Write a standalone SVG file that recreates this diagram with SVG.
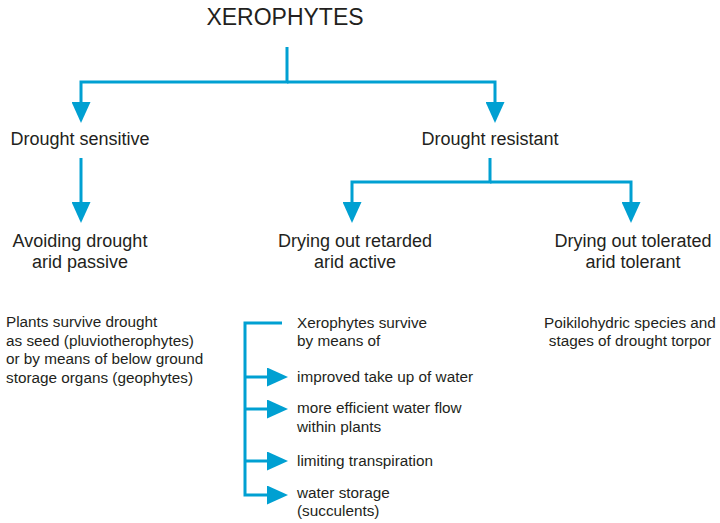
<svg xmlns="http://www.w3.org/2000/svg" width="720" height="523" viewBox="0 0 720 523">
<style>
text{font-family:"Liberation Sans",Arial,sans-serif;fill:#231f20}
.t1{font-size:23px}
.t2{font-size:18px}
.t3{font-size:15.3px}
.c{stroke:#00a0d2;stroke-width:3;fill:none;stroke-linejoin:miter}
</style>
<defs>
<marker id="ah" markerUnits="userSpaceOnUse" markerWidth="21" markerHeight="19" refX="0" refY="9.5" orient="auto">
<path d="M0,0 L21,9.5 L0,19 z" fill="#00a0d2"/>
</marker>
</defs>
<g id="connectors">
<path class="c" d="M287,47 V82 H81 V102" marker-end="url(#ah)"/>
<path class="c" d="M287,82 H495 V102" marker-end="url(#ah)"/>
<path class="c" d="M81,158 V202" marker-end="url(#ah)"/>
<path class="c" d="M490,158 V182 H352 V202" marker-end="url(#ah)"/>
<path class="c" d="M490,182 H631 V202" marker-end="url(#ah)"/>
<path class="c" d="M282,323 H245 V495 H267" marker-end="url(#ah)"/>
<path class="c" d="M245,377 H267" marker-end="url(#ah)"/>
<path class="c" d="M245,409 H267" marker-end="url(#ah)"/>
<path class="c" d="M245,461 H267" marker-end="url(#ah)"/>
</g>
<g id="xerophytes"><text class="t1" x="285" y="25" text-anchor="middle">XEROPHYTES</text></g>
<g id="sensitive"><text class="t2" x="80" y="145" text-anchor="middle">Drought sensitive</text></g>
<g id="resistant"><text class="t2" x="490" y="145" text-anchor="middle">Drought resistant</text></g>
<g id="avoiding"><text class="t2" x="80" y="247" text-anchor="middle">Avoiding drought</text><text class="t2" x="80" y="268" text-anchor="middle">arid passive</text></g>
<g id="retarded"><text class="t2" x="355" y="247" text-anchor="middle">Drying out retarded</text><text class="t2" x="355" y="268" text-anchor="middle">arid active</text></g>
<g id="tolerated"><text class="t2" x="633" y="247" text-anchor="middle">Drying out tolerated</text><text class="t2" x="633" y="268" text-anchor="middle">arid tolerant</text></g>
<g id="passive-desc">
<text class="t3" x="6" y="327">Plants survive drought</text>
<text class="t3" x="6" y="345.5">as seed (pluviotherophytes)</text>
<text class="t3" x="6" y="364">or by means of below ground</text>
<text class="t3" x="6" y="382.5">storage organs (geophytes)</text>
</g>
<g id="tolerant-desc">
<text class="t3" x="630" y="328" text-anchor="middle">Poikilohydric species and</text>
<text class="t3" x="630" y="346" text-anchor="middle">stages of drought torpor</text>
</g>
<g id="means"><text class="t3" x="297" y="328">Xerophytes survive</text><text class="t3" x="297" y="346">by means of</text></g>
<g id="uptake"><text class="t3" x="297" y="382">improved take up of water</text></g>
<g id="flow"><text class="t3" x="297" y="413">more efficient water flow</text><text class="t3" x="297" y="432">within plants</text></g>
<g id="transpiration"><text class="t3" x="297" y="466">limiting transpiration</text></g>
<g id="storage"><text class="t3" x="297" y="498">water storage</text><text class="t3" x="297" y="516">(succulents)</text></g>
</svg>
